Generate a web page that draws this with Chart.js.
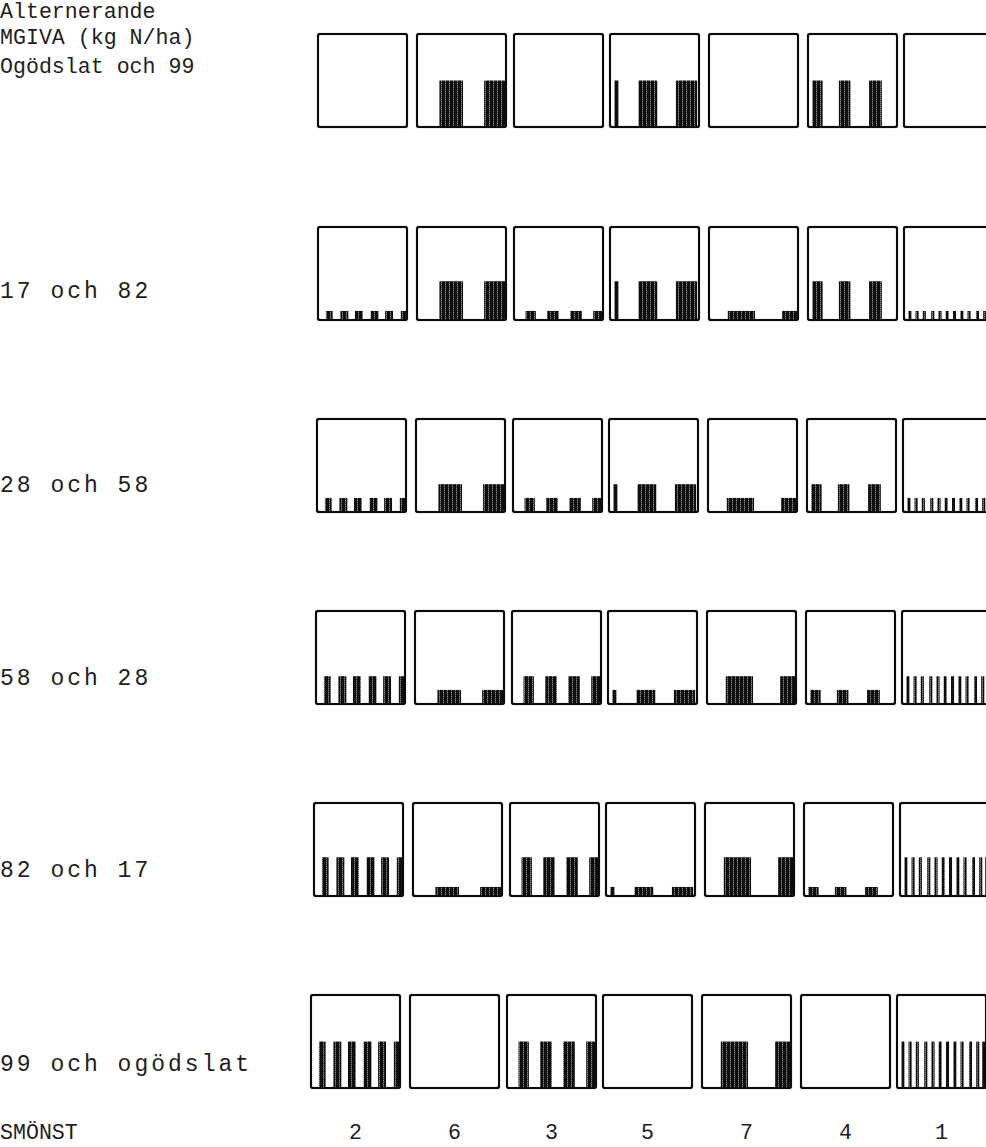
<!DOCTYPE html>
<html>
<head>
<meta charset="utf-8">
<script src="https://cdn.jsdelivr.net/npm/chart.js@4/dist/chart.umd.min.js"></script>
<style>
  html, body { margin: 0; padding: 0; background: #fff; overflow: hidden; width: 986px; height: 1147px; }
  #page { position: relative; width: 986px; height: 1147px; overflow: hidden;
          font-family: 'Liberation Mono', 'DejaVu Sans Mono', monospace; color: #1e1e1e; }
  .txt { position: absolute; white-space: pre; font-size: 21.6px; line-height: 22px; }
  .row { font-size: 23px; letter-spacing: 3px; }
  .num { text-align: center; width: 40px; }
  .panel { position: absolute; box-sizing: border-box; width: 91px; height: 95px;
           border: 2px solid #0a0a0a; border-radius: 3px; background: #fff; overflow: hidden;
           box-shadow: 0 0 0.8px #000, inset 0 0 0.8px #000; }
  .panel canvas { display: block; }
</style>
</head>
<body>
<div id="page"></div>
<script>
// Spreading patterns (SMÖNST), one column each
const patterns = ['2', '6', '3', '5', '7', '4', '1'];

// Alternating dose pairs (kg N/ha), one row each
const rowLabels = ['Ogödslat och 99', '17 och 82', '28 och 58', '58 och 28', '82 och 17', '99 och ogödslat'];
const firstDose  = [0, 17, 28, 58, 82, 99];
const secondDose = [99, 82, 58, 28, 17, 0];

// Which patterns receive the second dose of the pair
const secondDosePatterns = ['6', '5', '4'];

// Strips where each pattern spreads, as [first cell, last cell] across the 72-cell width
const strips = {
  '2': [[6, 10], [18, 23], [30, 35], [43, 48], [55, 60], [68, 71]],
  '6': [[18, 36], [55, 71]],
  '3': [[9, 16], [27, 35], [46, 54], [65, 71]],
  '5': [[3, 5], [23, 37], [54, 70]],
  '7': [[15, 36], [60, 71]],
  '4': [[3, 10], [25, 33], [50, 59]],
  '1': [[3, 4], [9, 10], [15, 16], [22, 23], [28, 29], [34, 35], [40, 41], [46, 47], [52, 53], [59, 60], [65, 66], [70, 71]]
};
const cellCount = 72;
const doseAxisMax = 200;

// Layout
const panelTops  = [33, 226, 418, 610, 802, 994];
const panelLefts = [317, 416, 513, 609, 708, 807, 903];
const rowShift   = [0, 0, -1, -2, -4, -7];
const panelW = 91, panelH = 95, borderW = 2;

const page = document.getElementById('page');

function addText(str, left, top, cls) {
  const d = document.createElement('div');
  d.className = 'txt' + (cls ? ' ' + cls : '');
  d.textContent = str;
  d.style.left = left + 'px';
  d.style.top = top + 'px';
  page.appendChild(d);
  return d;
}

// Heading and row labels
addText('Alternerande', 0, 1);
addText('MGIVA (kg N/ha)', 0, 27);
const labelTops = [56, 281, 475, 668, 860, 1054];
rowLabels.forEach((t, r) => addText(t, 0, labelTops[r], r === 0 ? '' : 'row'));
addText('SMÖNST', 0, 1122);
patterns.forEach((p, c) => addText(p, panelLefts[c] + panelW / 2 - 20 + rowShift[5], 1122, 'num'));

// Hatched fill for the bars
function hatch() {
  const cv = document.createElement('canvas');
  cv.width = 4; cv.height = 2;
  const g = cv.getContext('2d');
  g.fillStyle = '#0d0d0d';
  g.fillRect(0, 0, 4, 2);
  g.fillStyle = '#8a8a8a';
  g.fillRect(3, 0, 1, 1);
  g.fillStyle = '#3a3a3a';
  g.fillRect(3, 1, 1, 1);
  return g.createPattern(cv, 'repeat');
}
const fill = hatch();

const cellLabels = Array.from({ length: cellCount }, (_, i) => String(i));

function panelValues(pattern, row) {
  const dose = secondDosePatterns.includes(pattern) ? secondDose[row] : firstDose[row];
  const vals = new Array(cellCount).fill(null);
  if (dose > 0) {
    strips[pattern].forEach(([a, b]) => { for (let i = a; i <= b; i++) vals[i] = dose; });
  }
  return vals;
}

rowLabels.forEach((_, r) => {
  patterns.forEach((p, c) => {
    const box = document.createElement('div');
    box.className = 'panel';
    box.style.left = (panelLefts[c] + rowShift[r]) + 'px';
    box.style.top = panelTops[r] + 'px';
    const cv = document.createElement('canvas');
    const w = panelW - 2 * borderW, h = panelH - 2 * borderW;
    cv.width = w; cv.height = h;
    cv.style.width = w + 'px'; cv.style.height = h + 'px';
    box.appendChild(cv);
    page.appendChild(box);
    new Chart(cv, {
      type: 'bar',
      data: {
        labels: cellLabels,
        datasets: [{
          data: panelValues(p, r),
          backgroundColor: fill,
          borderWidth: 0,
          barPercentage: 1,
          categoryPercentage: 1
        }]
      },
      options: {
        responsive: false,
        animation: false,
        events: [],
        layout: { padding: 0 },
        plugins: { legend: { display: false }, tooltip: { enabled: false } },
        scales: {
          x: { display: false },
          y: { display: false, min: 0, max: doseAxisMax }
        }
      }
    });
  });
});
</script>
</body>
</html>
